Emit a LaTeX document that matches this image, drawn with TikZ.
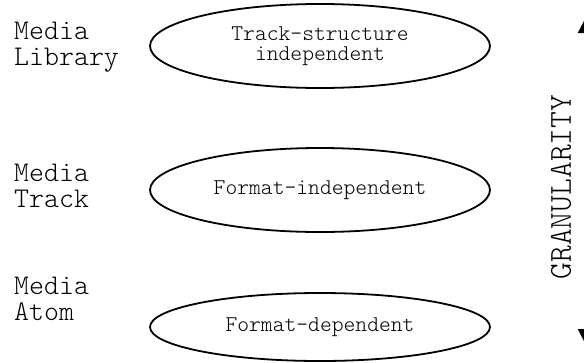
\documentclass[tikz,border=0pt]{standalone}
\usepackage{fontspec}
\setmonofont{lmmonolt10-regular.otf}
\usetikzlibrary{arrows.meta,shapes.geometric}
\begin{document}
\begin{tikzpicture}[x=1pt,y=-1pt,
  lbl/.style={anchor=base west, align=left, inner sep=0pt,
    font=\ttfamily\fontsize{28.5}{25.5}\selectfont},
  oval/.style={draw, line width=1.8pt, ellipse, minimum width=340pt,
    minimum height=84pt, inner sep=0pt, align=center,
    font=\ttfamily\fontsize{22.5}{20.5}\selectfont},
  gran/.style={rotate=90, inner sep=0pt,
    font=\ttfamily\fontsize{32}{32}\selectfont},
  axis/.style={line width=2pt,
    {Triangle[length=18pt,width=18pt]}-{Triangle[length=18pt,width=18pt]}}
]
\useasboundingbox (0,0) rectangle (584,362);
\node[lbl] (l1) at (14,65) {Media\\Library};
\node[lbl] (l2) at (14,207) {Media\\Track};
\node[lbl] (l3) at (14,320) {Media\\Atom};
\node[oval] (e1) at (320,46) {Track-structure\\independent};
\node[oval] (e2) at (320,190) {Format-independent};
\node[oval, minimum height=68pt] (e3) at (320,327) {Format-dependent};
\node[gran] (g) at (561,187) {GRANULARITY};
\coordinate (atop) at (587,15);
\coordinate (abot) at (587,347);
\draw[axis] (atop) -- (abot);
\end{tikzpicture}
\end{document}
